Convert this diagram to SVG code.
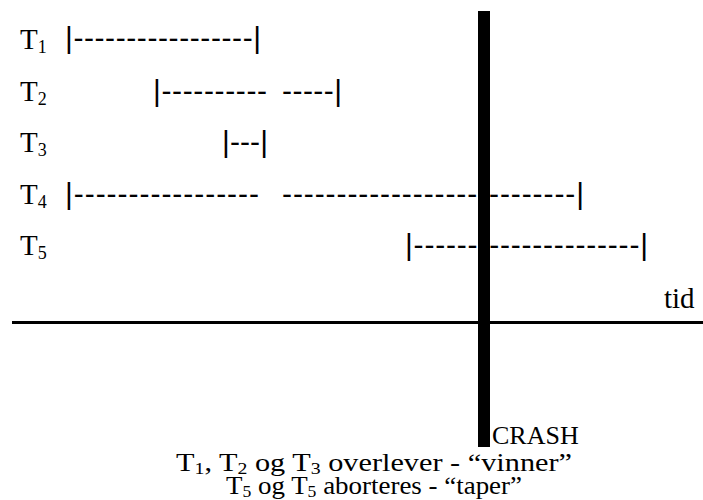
<svg xmlns="http://www.w3.org/2000/svg" width="703" height="500" viewBox="0 0 703 500">
  <style>
    .lbl { font-family: "Liberation Serif", "Times New Roman", serif; font-size: 29px; fill: #000; }
    .small { font-family: "Liberation Serif", "Times New Roman", serif; font-size: 26px; fill: #000; }
    .sub { font-size: 18px; }
    .ssub { font-size: 17px; }
    .span { font-family: "Liberation Sans", Arial, sans-serif; font-size: 30px; fill: #000; }
  </style>
  <rect x="0" y="0" width="703" height="500" fill="#fff"/>

  <!-- transaction rows: label plus its time span written with bars and hyphens -->
  <g id="t1">
    <text class="lbl" x="20" y="49">T<tspan class="sub" dy="4">1</tspan></text>
    <text class="span" x="65" y="48" textLength="196" lengthAdjust="spacing">|-----------------|</text>
  </g>
  <g id="t2">
    <text class="lbl" x="20" y="101">T<tspan class="sub" dy="4">2</tspan></text>
    <text class="span" x="153" y="101" textLength="114" lengthAdjust="spacing">|----------</text>
    <text class="span" x="282" y="101" textLength="60" lengthAdjust="spacing">-----|</text>
  </g>
  <g id="t3">
    <text class="lbl" x="20" y="152">T<tspan class="sub" dy="4">3</tspan></text>
    <text class="span" x="222" y="152" textLength="46" lengthAdjust="spacing">|---|</text>
  </g>
  <g id="t4">
    <text class="lbl" x="20" y="204">T<tspan class="sub" dy="4">4</tspan></text>
    <text class="span" x="65" y="204" textLength="194" lengthAdjust="spacing">|-----------------</text>
    <text class="span" x="282" y="204" textLength="302" lengthAdjust="spacing">---------------------------|</text>
  </g>
  <g id="t5">
    <text class="lbl" x="20" y="255">T<tspan class="sub" dy="4">5</tspan></text>
    <text class="span" x="405" y="255" textLength="243" lengthAdjust="spacing">|---------------------|</text>
  </g>

  <!-- time axis and crash marker -->
  <g id="connectors">
    <line x1="12" y1="322.5" x2="703" y2="322.5" stroke="#000" stroke-width="3"/>
    <rect x="478" y="11" width="12" height="436" fill="#000"/>
  </g>

  <g id="axis-label">
    <text class="lbl" x="664" y="308">tid</text>
  </g>
  <g id="crash">
    <text class="small" x="492" y="444">CRASH</text>
  </g>

  <g id="summary">
    <text class="small" x="176" y="471" textLength="396" lengthAdjust="spacingAndGlyphs">T<tspan class="ssub" dy="3">1</tspan><tspan dy="-3">, T</tspan><tspan class="ssub" dy="3">2</tspan><tspan dy="-3"> og T</tspan><tspan class="ssub" dy="3">3</tspan><tspan dy="-3"> overlever - “vinner”</tspan></text>
    <text class="small" x="226" y="494" textLength="296" lengthAdjust="spacingAndGlyphs">T<tspan class="ssub" dy="3">5</tspan><tspan dy="-3"> og T</tspan><tspan class="ssub" dy="3">5</tspan><tspan dy="-3"> aborteres - “taper”</tspan></text>
  </g>
</svg>
